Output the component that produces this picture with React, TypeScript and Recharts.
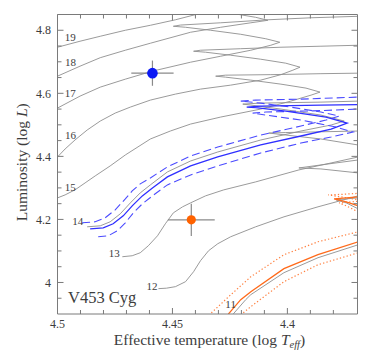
import React from 'react';
import { ComposedChart, Line, Scatter, XAxis, YAxis, ErrorBar } from 'recharts';

// ---- axis configuration ----
const X_DOMAIN: [number, number] = [4.3695, 4.5];
const Y_DOMAIN: [number, number] = [3.9, 4.85];
const X_TICKS = [4.38, 4.39, 4.4, 4.41, 4.42, 4.43, 4.44, 4.45, 4.46, 4.47, 4.48, 4.49, 4.5];
const X_LABELS = [4.4, 4.45, 4.5];
const Y_TICKS = [3.95, 4.0, 4.05, 4.1, 4.15, 4.2, 4.25, 4.3, 4.35, 4.4, 4.45, 4.5, 4.55, 4.6, 4.65, 4.7, 4.75, 4.8];
const Y_LABELS = [4.0, 4.2, 4.4, 4.6, 4.8];

// ---- evolutionary tracks: [log Teff, log L] ----
const track19 = [[4.5033,4.7399],[4.5,4.7462],[4.4902,4.7652],[4.4814,4.7810],[4.4705,4.8000],[4.4596,4.8158],[4.4487,4.8332],[4.4378,4.8538],[4.4247,4.8759]];
const track18 = [[4.5033,4.6449],[4.5,4.6544],[4.4902,4.6861],[4.4814,4.7130],[4.4705,4.7367],[4.4596,4.7589],[4.4421,4.7937],[4.4290,4.8095],[4.4159,4.8237],[4.4085,4.8316],[4.4138,4.8411],[4.4203,4.8491],[4.4378,4.8712],[4.4574,4.8918]];
const track17 = [[4.5033,4.5437],[4.5,4.5532],[4.4902,4.5911],[4.4814,4.6196],[4.4705,4.6449],[4.4587,4.6703],[4.4421,4.6987],[4.4290,4.7177],[4.4159,4.7367],[4.4072,4.7525],[4.4033,4.7620],[4.4094,4.7731],[4.4203,4.7873],[4.4334,4.8000],[4.4443,4.8095],[4.4496,4.8127],[4.4465,4.8165],[4.4290,4.8237],[4.4085,4.8332],[4.3897,4.8396],[4.3692,4.8443],[4.3614,4.8475]];
const track16 = [[4.5033,4.3728],[4.5,4.3981],[4.4967,4.4234],[4.4924,4.4519],[4.4871,4.4835],[4.4814,4.5120],[4.4749,4.5373],[4.4683,4.5563],[4.4596,4.5785],[4.4487,4.5975],[4.4378,4.6133],[4.4247,4.6259],[4.4116,4.6418],[4.4028,4.6592],[4.3976,4.6734],[4.3945,4.6829],[4.4007,4.6956],[4.4116,4.7082],[4.4247,4.7209],[4.4356,4.7304],[4.4408,4.7335],[4.4378,4.7367],[4.4203,4.7415],[4.4028,4.7462],[4.3854,4.7494],[4.3692,4.7525],[4.3614,4.7541]];
const track15 = [[4.5033,4.2589],[4.5,4.2683],[4.4967,4.2778],[4.4924,4.2937],[4.4880,4.3158],[4.4836,4.3380],[4.4771,4.3696],[4.4705,4.4044],[4.4596,4.4551],[4.4509,4.4804],[4.4421,4.5025],[4.4290,4.5247],[4.4116,4.5500],[4.3985,4.5753],[4.3897,4.5943],[4.3858,4.6038],[4.3919,4.6165],[4.4028,4.6291],[4.4159,4.6418],[4.4269,4.6513],[4.4312,4.6544],[4.4269,4.6576],[4.4072,4.6592],[4.3854,4.6623],[4.3692,4.6639],[4.3614,4.6655]];
const track14 = [[4.4871,4.1766],[4.4814,4.1797],[4.4771,4.1924],[4.4727,4.2177],[4.4683,4.2525],[4.4640,4.2842],[4.4596,4.3095],[4.4522,4.3506],[4.4421,4.3854],[4.4303,4.4139],[4.4116,4.4519],[4.3941,4.4804],[4.3810,4.4994],[4.3753,4.5120],[4.3854,4.5310],[4.4028,4.5500],[4.4159,4.5627],[4.4194,4.5658],[4.4116,4.5690],[4.3854,4.5721],[4.3692,4.5753],[4.3614,4.5769]];
const track13 = [[4.4718,4.0816],[4.4675,4.0848],[4.4640,4.0943],[4.4605,4.1164],[4.4565,4.1481],[4.4531,4.1861],[4.4496,4.2209],[4.4456,4.2399],[4.4421,4.2525],[4.4356,4.2747],[4.4277,4.2937],[4.4138,4.3190],[4.3950,4.3570],[4.3810,4.3791],[4.3692,4.3981],[4.3644,4.4108],[4.3692,4.4361],[4.3854,4.4551],[4.4007,4.4677],[4.4081,4.4740],[4.4007,4.4756],[4.3692,4.4804],[4.3614,4.4820]];
const track12 = [[4.4561,3.9804],[4.4526,3.9819],[4.4487,3.9867],[4.4443,4.0025],[4.4408,4.0342],[4.4378,4.0690],[4.4343,4.1006],[4.4303,4.1228],[4.4247,4.1449],[4.4138,4.1766],[4.4015,4.2082],[4.3867,4.2399],[4.3692,4.2747],[4.3627,4.3190],[4.3692,4.3475],[4.3854,4.3601],[4.3950,4.3633],[4.3854,4.3728],[4.3692,4.3886],[4.3614,4.3949]];
const track11 = [[4.4251,3.8759],[4.4234,3.9013],[4.4181,3.9456],[4.4159,3.9614],[4.4015,4.0310],[4.3867,4.0785],[4.3692,4.1196],[4.3627,4.1924],[4.3692,4.2335],[4.3744,4.2525],[4.3788,4.2620],[4.3744,4.2652],[4.3692,4.2683],[4.3614,4.2747]];

// primary-star model tracks (blue): best mass and +/- uncertainty
const primaryUpper = [[4.4893,4.1892],[4.4836,4.1924],[4.4793,4.2051],[4.4749,4.2304],[4.4705,4.2652],[4.4675,4.2905],[4.4640,4.3127],[4.4596,4.3316],[4.4522,4.3664],[4.4421,4.4013],[4.4303,4.4297],[4.4116,4.4677],[4.3941,4.4962],[4.3832,4.5152],[4.3775,4.5278],[4.3854,4.5405],[4.3985,4.5563],[4.4116,4.5690],[4.4203,4.5753],[4.4138,4.5785],[4.3941,4.5816],[4.3692,4.5880],[4.3614,4.5896]];
const primaryBest = [[4.4858,4.1702],[4.4801,4.1734],[4.4758,4.1861],[4.4714,4.2114],[4.4675,4.2430],[4.4631,4.2747],[4.4587,4.3000],[4.4522,4.3348],[4.4421,4.3696],[4.4303,4.3981],[4.4116,4.4361],[4.3941,4.4646],[4.3810,4.4867],[4.3740,4.5057],[4.3832,4.5247],[4.4007,4.5437],[4.4138,4.5547],[4.4177,4.5563],[4.4116,4.5595],[4.3854,4.5627],[4.3692,4.5642],[4.3614,4.5658]];
const primaryLower = [[4.4823,4.1449],[4.4779,4.1481],[4.4740,4.1639],[4.4705,4.1892],[4.4670,4.2209],[4.4631,4.2494],[4.4587,4.2747],[4.4522,4.3095],[4.4421,4.3411],[4.4303,4.3696],[4.4116,4.4108],[4.3941,4.4424],[4.3810,4.4614],[4.3714,4.4772],[4.3788,4.4930],[4.3941,4.5152],[4.4094,4.5310],[4.4151,4.5373],[4.4094,4.5405],[4.3854,4.5452],[4.3692,4.5500],[4.3614,4.5516]];

// secondary-star model tracks (orange)
const secondaryUpper = [[4.4356,3.8759],[4.4334,3.9013],[4.4255,3.9551],[4.4159,4.0183],[4.4015,4.0880],[4.3867,4.1291],[4.3692,4.1608],[4.3627,4.2240],[4.3692,4.2620],[4.3766,4.2715],[4.3823,4.2778],[4.3766,4.2794],[4.3692,4.2826],[4.3614,4.2873]];
const secondaryBest = [[4.4273,3.8759],[4.4255,3.9013],[4.4203,3.9456],[4.4159,3.9709],[4.4015,4.0437],[4.3867,4.0880],[4.3692,4.1291],[4.3627,4.1987],[4.3692,4.2430],[4.3744,4.2557],[4.3797,4.2652],[4.3744,4.2683],[4.3692,4.2715],[4.3614,4.2778]];
const secondaryLower = [[4.4216,3.8759],[4.4196,3.9013],[4.4159,3.9234],[4.4015,4.0025],[4.3867,4.0563],[4.3692,4.0943],[4.3614,4.1734],[4.3692,4.2240],[4.3744,4.2430],[4.3775,4.2525],[4.3723,4.2557],[4.3692,4.2573],[4.3614,4.2620]];

// observed components
const primaryStar = [{ x: 4.4587, y: 4.6639, ex: 0.0092, ey: 0.040 }];
const secondaryStar = [{ x: 4.4418, y: 4.1987, ex: 0.0102, ey: 0.051 }];

// track mass labels (solar masses)
const trackLabels = [
  { x: 4.4945, y: 4.7778, t: '19' },
  { x: 4.4943, y: 4.6987, t: '18' },
  { x: 4.4945, y: 4.5990, t: '17' },
  { x: 4.4943, y: 4.4677, t: '16' },
  { x: 4.4945, y: 4.3032, t: '15' },
  { x: 4.4912, y: 4.1956, t: '14' },
  { x: 4.4753, y: 4.0933, t: '13' },
  { x: 4.4589, y: 3.9876, t: '12' },
  { x: 4.4247, y: 3.9297, t: '11' },
];
const starName = [{ x: 4.4954, y: 3.9345, t: 'V453 Cyg' }];

const pts = (a: number[][]) => a.map(([x, y]) => ({ x, y }));

const FONT = '"Liberation Serif", "Times New Roman", serif';
const AX = '#7a7a7a';
const TXT = '#3d3d3d';
const GREY = '#8e8e8e';
const BLUE = '#2f2fff';
const BLUE_D = '#4b4bff';
const ORANGE = '#ff6a1a';
const ORANGE_D = '#ff8040';

const near = (v: number, list: number[]) => list.some((m) => Math.abs(m - v) < 1e-6);
const fmtX = (v: number) => (Math.abs(v - 4.45) < 1e-6 ? '4.45' : Math.abs(v - 4.4) < 1e-6 ? '4.4' : '4.5');
const fmtY = (v: number) => (Math.abs(v - 4) < 1e-6 ? '4' : v.toFixed(1));

const BottomTick = (p: any) => {
  const v = p.payload.value;
  const major = near(v, X_LABELS);
  return (
    <g>
      <line x1={p.x} x2={p.x} y1={p.y} y2={p.y - (major ? 6 : 4)} stroke={AX} strokeWidth={1} />
      {major && (
        <text x={p.x} y={p.y + 13.5} textAnchor="middle" fontSize={12} fontFamily={FONT} fill={TXT}>
          {fmtX(v)}
        </text>
      )}
    </g>
  );
};
const TopTick = (p: any) => {
  const major = near(p.payload.value, X_LABELS);
  return <line x1={p.x} x2={p.x} y1={p.y} y2={p.y + (major ? 6 : 4)} stroke={AX} strokeWidth={1} />;
};
const LeftTick = (p: any) => {
  const v = p.payload.value;
  const major = near(v, Y_LABELS);
  return (
    <g>
      <line x1={p.x} x2={p.x + (major ? 6 : 4)} y1={p.y} y2={p.y} stroke={AX} strokeWidth={1} />
      {major && (
        <text x={p.x - 6.5} y={p.y + 4.2} textAnchor="end" fontSize={12} fontFamily={FONT} fill={TXT}>
          {fmtY(v)}
        </text>
      )}
    </g>
  );
};
const RightTick = (p: any) => {
  const major = near(p.payload.value, Y_LABELS);
  return <line x1={p.x} x2={p.x - (major ? 6 : 4)} y1={p.y} y2={p.y} stroke={AX} strokeWidth={1} />;
};

const XTitle = (props: any) => {
  const vb = props.viewBox;
  const cx = vb.x + vb.width / 2 + 2;
  return (
    <text x={cx} y={vb.y + 30.5} textAnchor="middle" fontSize={15.5} fontFamily={FONT} fill={TXT}>
      Effective temperature (log <tspan fontStyle="italic">T</tspan>
      <tspan fontStyle="italic" fontSize={10.5} dy={3}>eff</tspan>
      <tspan dy={-3}>)</tspan>
    </text>
  );
};
const YTitle = (props: any) => {
  const vb = props.viewBox;
  const cy = vb.y + vb.height / 2 - 2;
  const ax = vb.x + vb.width;
  return (
    <text transform="rotate(-90)" x={-cy} y={ax - 30.5} textAnchor="middle" fontSize={15.5} fontFamily={FONT} fill={TXT}>
      Luminosity (log <tspan fontStyle="italic">L</tspan>)
    </text>
  );
};

const LabelShape = (size: number, anchor: string, dy: number) => (p: any) => (
  <text x={p.cx} y={p.cy + dy} textAnchor={anchor as any} fontSize={size} fontFamily={FONT} fill={TXT}>
    {p.payload.t}
  </text>
);

const lineBase = {
  xAxisId: 'b',
  yAxisId: 'l',
  dataKey: 'y',
  type: 'linear' as const,
  dot: false,
  activeDot: false,
  isAnimationActive: false,
  legendType: 'none' as const,
};

export default function App() {
  const greys = [track19, track18, track17, track16, track15, track14, track13, track12, track11];
  return (
    <div>
      <style>{'body{margin:0;overflow:hidden}'}</style>
      <ComposedChart width={371} height={351} margin={{ top: 13.5, right: 12.5, bottom: 36, left: 56.5 }}>
        <XAxis xAxisId="b" orientation="bottom" type="number" dataKey="x" domain={X_DOMAIN} reversed allowDataOverflow
          ticks={X_TICKS} interval={0} height={1} tickSize={0} tickMargin={0} tickLine={false} tick={BottomTick}
          axisLine={{ stroke: AX, strokeWidth: 1 }} label={XTitle} />
        <XAxis xAxisId="t" orientation="top" type="number" dataKey="x" domain={X_DOMAIN} reversed allowDataOverflow
          ticks={X_TICKS} interval={0} height={1} tickSize={0} tickMargin={0} tickLine={false} tick={TopTick}
          axisLine={{ stroke: AX, strokeWidth: 1 }} />
        <YAxis yAxisId="l" orientation="left" type="number" dataKey="y" domain={Y_DOMAIN} allowDataOverflow
          ticks={Y_TICKS} interval={0} width={1} tickSize={0} tickMargin={0} tickLine={false} tick={LeftTick}
          axisLine={{ stroke: AX, strokeWidth: 1 }} label={YTitle} />
        <YAxis yAxisId="r" orientation="right" type="number" dataKey="y" domain={Y_DOMAIN} allowDataOverflow
          ticks={Y_TICKS} interval={0} width={1} tickSize={0} tickMargin={0} tickLine={false} tick={RightTick}
          axisLine={{ stroke: AX, strokeWidth: 1 }} />

        {greys.map((t, i) => (
          <Line key={'g' + i} {...lineBase} data={pts(t)} stroke={GREY} strokeWidth={0.9} />
        ))}

        <Line {...lineBase} data={pts(secondaryUpper)} stroke={ORANGE_D} strokeWidth={1.2} strokeDasharray="1.3 2.2" />
        <Line {...lineBase} data={pts(secondaryLower)} stroke={ORANGE_D} strokeWidth={1.2} strokeDasharray="1.3 2.2" />
        <Line {...lineBase} data={pts(secondaryBest)} stroke={ORANGE} strokeWidth={1.3} />

        <Line {...lineBase} data={pts(primaryUpper)} stroke={BLUE_D} strokeWidth={1.1} strokeDasharray="8 4" />
        <Line {...lineBase} data={pts(primaryLower)} stroke={BLUE_D} strokeWidth={1.1} strokeDasharray="8 4" />
        <Line {...lineBase} data={pts(primaryBest)} stroke={BLUE} strokeWidth={1.3} />

        <Scatter xAxisId="b" yAxisId="l" data={primaryStar} isAnimationActive={false} legendType="none"
          shape={(p: any) => <circle cx={p.cx} cy={p.cy} r={5.3} fill="#0a18f5" />}>
          <ErrorBar dataKey="ex" direction="x" width={0} stroke="#8a8a8a" strokeWidth={1.2} isAnimationActive={false} />
          <ErrorBar dataKey="ey" direction="y" width={0} stroke="#8a8a8a" strokeWidth={1.2} isAnimationActive={false} />
        </Scatter>
        <Scatter xAxisId="b" yAxisId="l" data={secondaryStar} isAnimationActive={false} legendType="none"
          shape={(p: any) => <circle cx={p.cx} cy={p.cy} r={4.6} fill="#ff6200" />}>
          <ErrorBar dataKey="ex" direction="x" width={0} stroke="#8a8a8a" strokeWidth={1.2} isAnimationActive={false} />
          <ErrorBar dataKey="ey" direction="y" width={0} stroke="#8a8a8a" strokeWidth={1.2} isAnimationActive={false} />
        </Scatter>

        <Scatter xAxisId="b" yAxisId="l" data={trackLabels} isAnimationActive={false} legendType="none"
          shape={LabelShape(11, 'middle', 3.8)} />
        <Scatter xAxisId="b" yAxisId="l" data={starName} isAnimationActive={false} legendType="none"
          shape={LabelShape(16.5, 'start', 0)} />
      </ComposedChart>
    </div>
  );
}
